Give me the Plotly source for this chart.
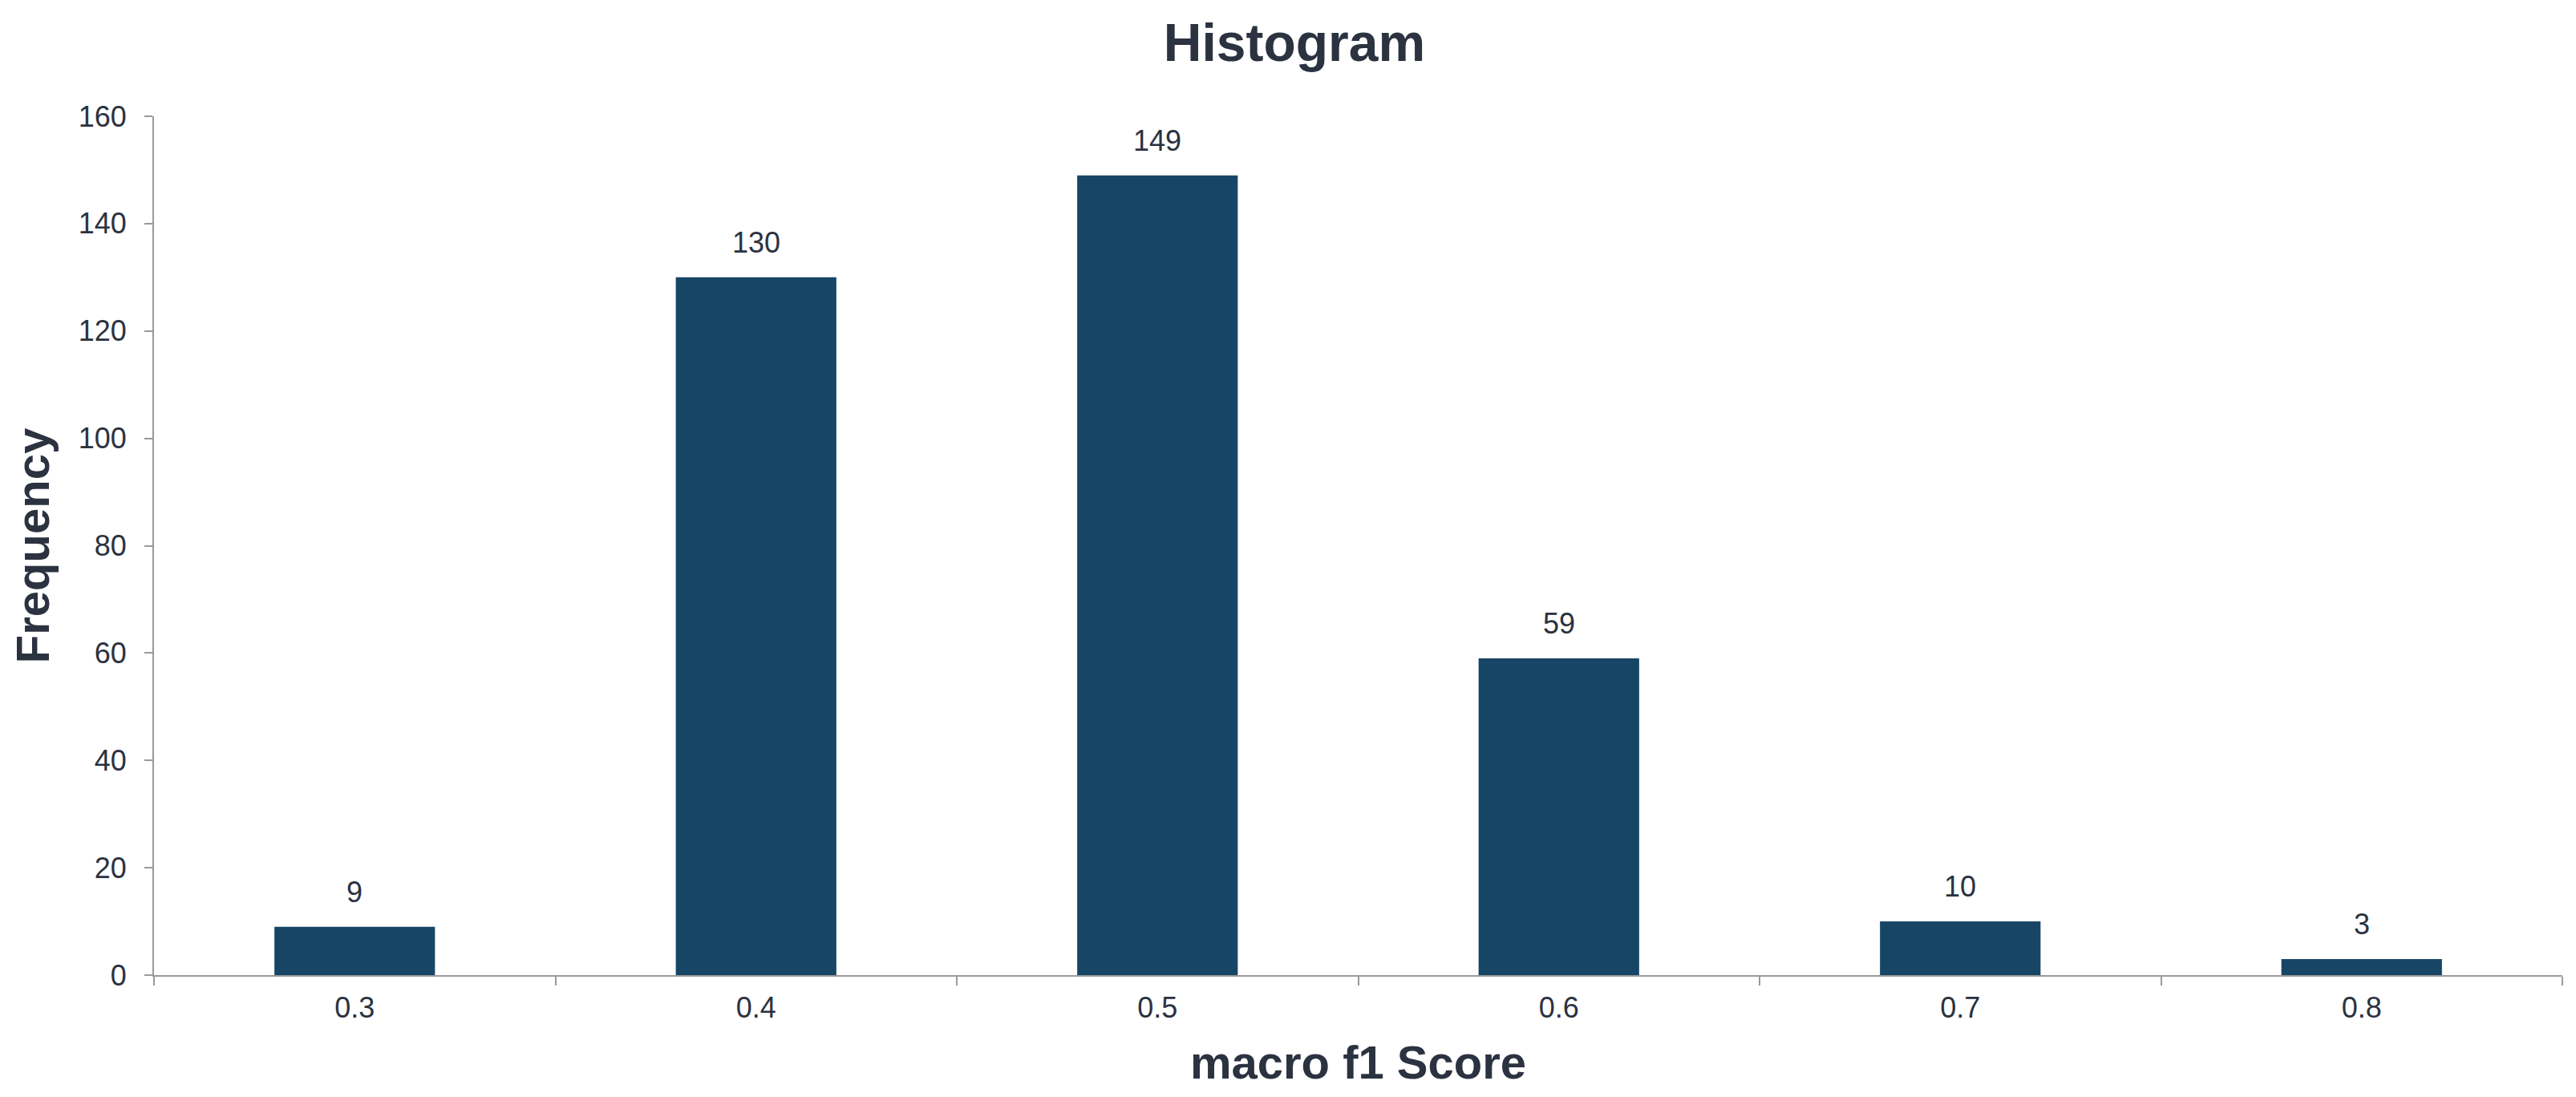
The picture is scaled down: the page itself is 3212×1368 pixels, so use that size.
import plotly.graph_objects as go

categories = ["0.3", "0.4", "0.5", "0.6", "0.7", "0.8"]
frequencies = [9, 130, 149, 59, 10, 3]
y_ticks = [0, 20, 40, 60, 80, 100, 120, 140, 160]

TEXT = "#2b3240"
BAR = "#174566"
AXIS = "#9a9a9a"
FONT = "Liberation Sans, Arial, sans-serif"

fig = go.Figure(
    go.Bar(
        x=categories,
        y=frequencies,
        marker=dict(color=BAR, line=dict(width=0)),
        width=0.4,
        hoverinfo="x+y",
    )
)

# value labels above each bar, positioned via the category axis index and data y
for i, v in enumerate(frequencies):
    fig.add_annotation(
        x=i,
        y=v,
        xref="x",
        yref="y",
        text=str(v),
        showarrow=False,
        yanchor="bottom",
        yshift=21,
        font=dict(size=36, color=TEXT, family=FONT),
    )

fig.update_layout(
    width=3212,
    height=1368,
    paper_bgcolor="white",
    plot_bgcolor="white",
    margin=dict(l=184, r=25, t=137, b=160),
    font=dict(family=FONT, color=TEXT),
    showlegend=False,
    title=dict(
        text="<b>Histogram</b>",
        x=0.5,
        xref="container",
        xanchor="center",
        y=1 - 45 / 1368,
        yref="container",
        yanchor="middle",
        font=dict(size=66, color=TEXT, family=FONT),
    ),
    xaxis=dict(
        type="category",
        tickson="boundaries",
        ticks="outside",
        ticklen=11,
        tickcolor=AXIS,
        tickwidth=2,
        showline=True,
        linecolor=AXIS,
        linewidth=2,
        showgrid=False,
        ticklabelstandoff=8,
        tickfont=dict(size=36, color=TEXT, family=FONT),
        title=dict(
            text="<b>macro f1 Score</b>",
            font=dict(size=58, color=TEXT, family=FONT),
            standoff=28,
        ),
    ),
    yaxis=dict(
        range=[0, 160],
        tickvals=y_ticks,
        ticks="outside",
        ticklen=10,
        tickcolor=AXIS,
        tickwidth=2,
        showline=True,
        linecolor=AXIS,
        linewidth=2,
        showgrid=False,
        zeroline=False,
        ticklabelstandoff=15,
        tickfont=dict(size=36, color=TEXT, family=FONT),
        title=dict(
            text="<b>Frequency</b>",
            font=dict(size=58, color=TEXT, family=FONT),
            standoff=20,
        ),
    ),
)

fig.write_html("out.html")
